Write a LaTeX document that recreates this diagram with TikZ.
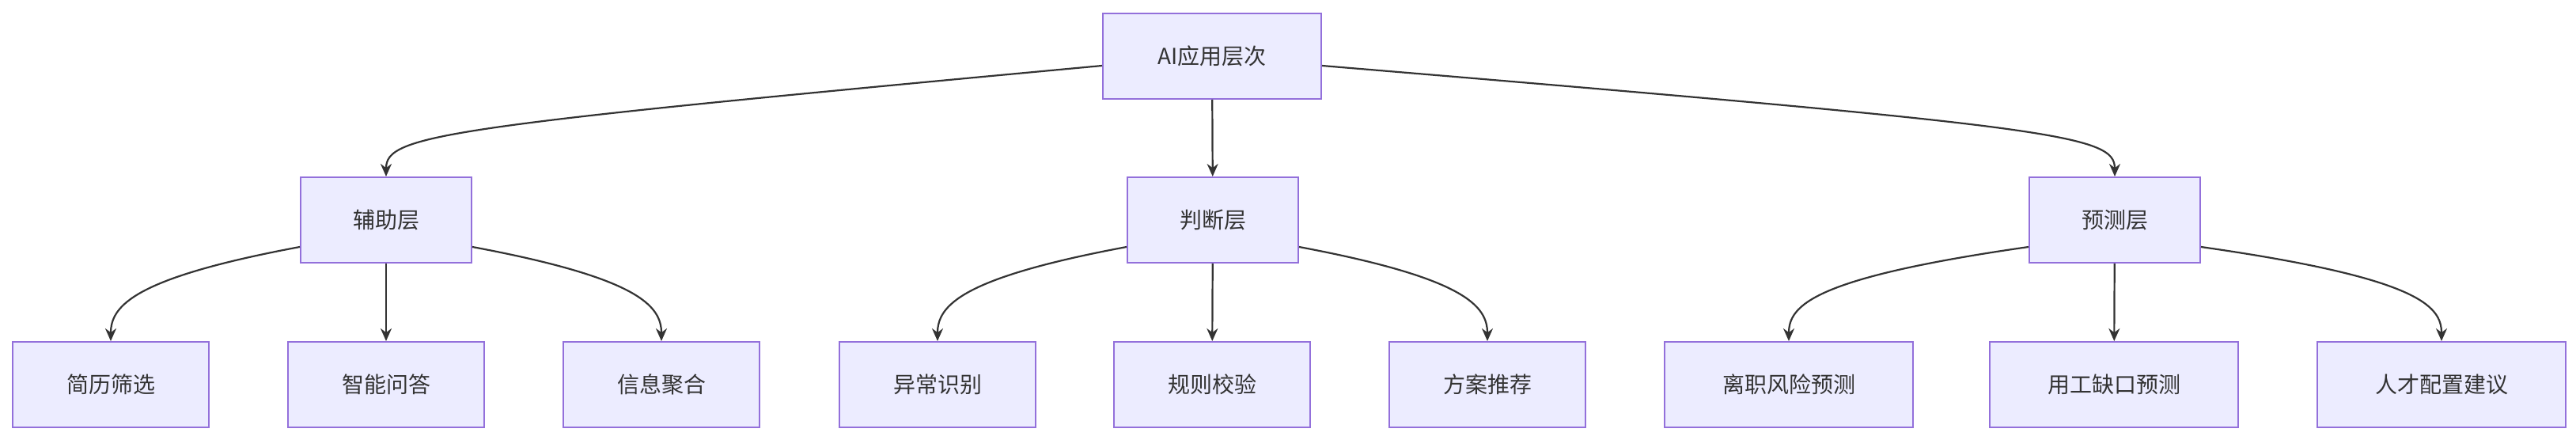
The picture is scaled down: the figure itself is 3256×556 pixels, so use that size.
\documentclass[tikz,border=0pt]{standalone}
\usepackage{fontspec}
\setmainfont{Noto Sans CJK SC}
\usetikzlibrary{arrows.meta,calc}
\definecolor{nf}{HTML}{ECECFF}
\definecolor{nb}{HTML}{9370DB}
\definecolor{ln}{HTML}{333333}
\begin{document}
\begin{tikzpicture}[x=0.5pt,y=-0.5pt,
  box/.style={draw=nb,fill=nf,line width=1pt,minimum height=54pt,inner sep=0pt,font=\fontsize{14}{16}\selectfont,text=ln},
  edge/.style={draw=ln,line width=1.1pt,-{Stealth[length=8pt,width=7pt]}}]
\useasboundingbox (0,0) rectangle (3256,556);
\node[box,minimum width=138pt] (root) at (1532,71) {AI应用层次};
\node[box,minimum width=108pt] (a) at (488,278) {辅助层};
\node[box,minimum width=108pt] (b) at (1533,278) {判断层};
\node[box,minimum width=108pt] (c) at (2673,278) {预测层};
\node[box,minimum width=124pt] (a1) at (140,486) {简历筛选};
\node[box,minimum width=124pt] (a2) at (488,486) {智能问答};
\node[box,minimum width=124pt] (a3) at (836,486) {信息聚合};
\node[box,minimum width=124pt] (b1) at (1185,486) {异常识别};
\node[box,minimum width=124pt] (b2) at (1532,486) {规则校验};
\node[box,minimum width=124pt] (b3) at (1880,486) {方案推荐};
\node[box,minimum width=157pt] (c1) at (2261,486) {离职风险预测};
\node[box,minimum width=157pt] (c2) at (2672,486) {用工缺口预测};
\node[box,minimum width=157pt] (c3) at (3086,486) {人才配置建议};
\path[edge] ([yshift=-6pt]root.west) .. controls (560,160) and (488,170) .. (a.north);
\path[edge] (root) -- (b);
\path[edge] ([yshift=-6pt]root.east) .. controls (2600,160) and (2673,170) .. (c.north);
\foreach \p/\l/\r in {a/a1/a3,b/b1/b3,c/c1/c3}{
  \path[edge] ([yshift=-17pt]\p.west) .. controls ($(\l.north)+(30,-80)$) and ($(\l.north)+(0,-45)$) .. (\l.north);
  \path[edge] ([yshift=-17pt]\p.east) .. controls ($(\r.north)+(-30,-80)$) and ($(\r.north)+(0,-45)$) .. (\r.north);
}
\path[edge] (a) -- (a2);
\path[edge] (b) -- (b2);
\path[edge] (c) -- (c2);
\end{tikzpicture}
\end{document}
